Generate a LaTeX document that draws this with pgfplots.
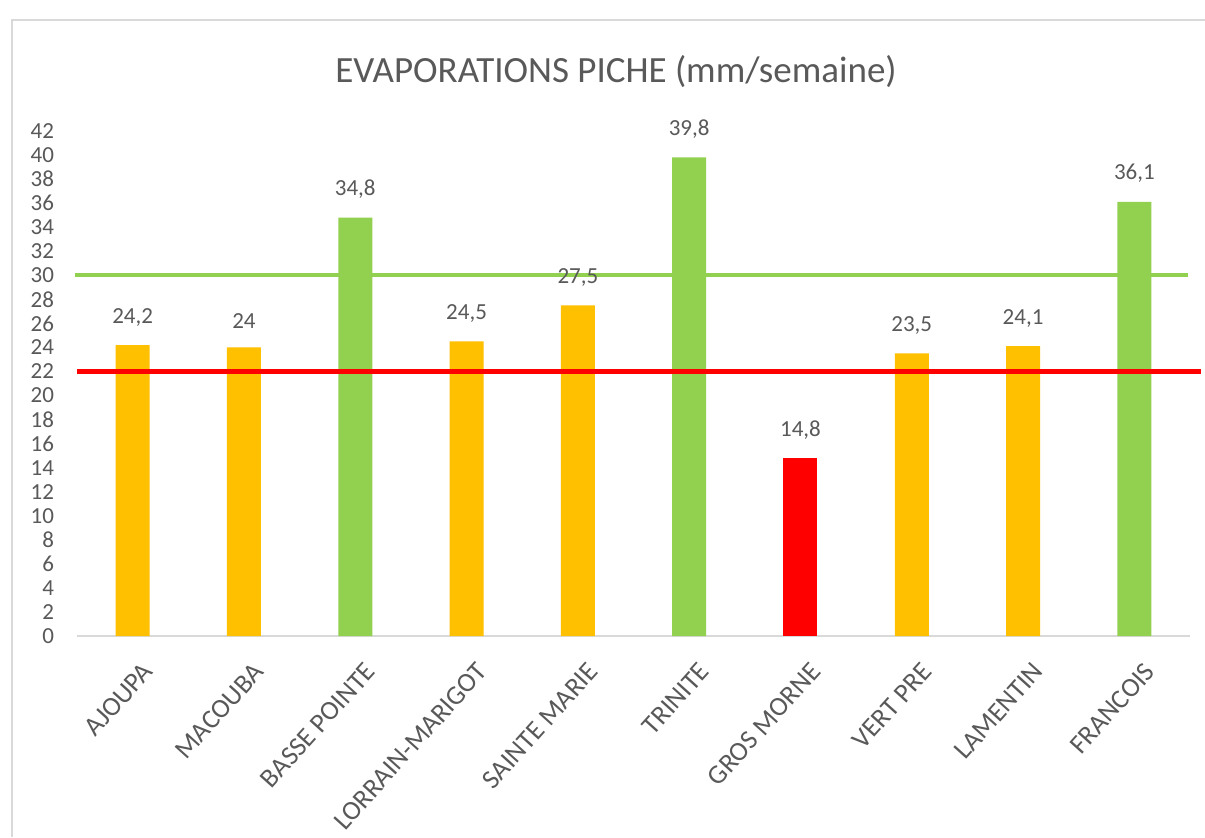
\documentclass[border=0pt]{standalone}
\usepackage{pgfplots}
\pgfplotsset{compat=1.18}
\usepackage{fontspec}
\setmainfont{Carlito}
\definecolor{txt}{HTML}{595959}
\definecolor{orangeb}{HTML}{FFC000}
\definecolor{greenb}{HTML}{92D050}
\definecolor{redb}{HTML}{FF0000}
\definecolor{axgray}{HTML}{D9D9D9}
\begin{document}
\begin{tikzpicture}
\useasboundingbox (0,0) rectangle (602.5pt,418.5pt);
\fill[white] (0,0) rectangle (602.5pt,418.5pt);
\draw[black!15, line width=1pt] (6pt,0) -- (6pt,408.5pt) -- (602.5pt,408.5pt);
\node[text=txt, font=\fontsize{18.5}{22}\selectfont, inner sep=0pt] at (308pt,382.5pt) {EVAPORATIONS PICHE (mm/semaine)};
\begin{axis}[
  at={(38.5pt,100.5pt)}, anchor=south west,
  scale only axis, width=556.5pt, height=252.5pt,
  xmin=-0.5, xmax=9.5, ymin=0, ymax=42,
  clip=false,
  axis x line*=bottom, axis y line*=left,
  y axis line style={draw=none},
  x axis line style={draw=axgray, line width=1pt, -},
  tick style={draw=none},
  major tick length=0pt,
  /pgf/number format/assume math mode=true,
  ytick={0,2,...,42},
  yticklabel style={text=txt, font=\fontsize{11.5}{12}\selectfont, anchor=east, xshift=-8pt},
  xtick={0,...,9},
  xticklabels={AJOUPA, MACOUBA, BASSE POINTE, LORRAIN-MARIGOT, SAINTE MARIE, TRINITE, GROS MORNE, VERT PRE, LAMENTIN, FRANCOIS},
  xticklabel style={text=txt, font=\fontsize{13.5}{15}\selectfont, rotate=48, anchor=east, xshift=-3pt, yshift=-16pt},
  nodes near coords={\pgfmathprintnumber[use comma,fixed,precision=1,assume math mode=true]{\pgfplotspointmeta}},
  nodes near coords style={text=txt, font=\fontsize{11.5}{13}\selectfont, anchor=south, yshift=6pt},
]
\addplot[ybar, fill=orangeb, draw=none, bar width=17pt, bar shift=0pt] coordinates {(0,24.2) (1,24) (3,24.5) (4,27.5) (7,23.5) (8,24.1)};
\addplot[ybar, fill=greenb, draw=none, bar width=17pt, bar shift=0pt] coordinates {(2,34.8) (5,39.8) (9,36.1)};
\addplot[ybar, fill=redb, draw=none, bar width=17pt, bar shift=0pt] coordinates {(6,14.8)};
\addplot[greenb, line width=2pt, no marks, nodes near coords={}] coordinates {(-0.52,30) (9.48,30)};
\addplot[redb, line width=2.5pt, no marks, nodes near coords={}] coordinates {(-0.5,22) (9.6,22)};
\end{axis}
\end{tikzpicture}
\end{document}
